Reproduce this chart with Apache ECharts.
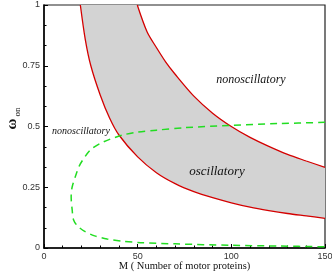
<!DOCTYPE html>
<html>
<head>
<meta charset="utf-8">
<script src="https://cdn.jsdelivr.net/npm/echarts@6/dist/echarts.min.js"></script>
<style>html,body{margin:0;padding:0;background:#fff}#c{width:332px;height:272px}</style>
</head>
<body>
<div id="c"></div>
<script>
// Lower red boundary (M, omega_on)
const lowerM = [19.4, 22, 25, 30, 35, 40, 50, 60, 70, 80, 90, 100, 110, 120, 130, 140, 150];
const lowerW = [1.0, 0.86, 0.75, 0.63, 0.535, 0.465, 0.375, 0.31, 0.265, 0.232, 0.207, 0.186, 0.168, 0.154, 0.142, 0.132, 0.122];
// Upper red boundary
const upperM = [49.8, 55, 60, 65, 70, 80, 90, 100, 110, 120, 130, 140, 150];
const upperW = [1.0, 0.89, 0.825, 0.765, 0.715, 0.625, 0.555, 0.5, 0.455, 0.418, 0.385, 0.358, 0.332];
// Green dashed curve (traced in order)
const greenM = [150, 125, 100, 75, 60, 50, 42, 35, 30, 25, 22, 19, 16.7, 15, 14.5, 15, 15.8, 18, 22, 27, 33.7, 42, 51.6, 70, 100, 125, 150];
const greenW = [0.517, 0.512, 0.505, 0.495, 0.485, 0.477, 0.465, 0.447, 0.43, 0.405, 0.377, 0.34, 0.293, 0.25, 0.211, 0.16, 0.115, 0.09, 0.067, 0.05, 0.037, 0.028, 0.022, 0.017, 0.011, 0.008, 0.005];
// Axis ticks
const xTicks = [0, 50, 100, 150];
const yTicks = [0, 0.25, 0.5, 0.75, 1];

const zip = (a, b) => a.map((v, i) => [v, b[i]]);
const lowerData = zip(lowerM, lowerW);
const upperData = zip(upperM, upperW);
const greenData = zip(greenM, greenW);
const yMax = yTicks[yTicks.length - 1];
const poly = [].concat(upperData, lowerData.slice().reverse());

const chart = echarts.init(document.getElementById('c'), null, {renderer: 'canvas'});
const axisCommon = {
  axisLine: {show: true, lineStyle: {color: '#000', width: 1.5}},
  axisTick: {show: true, inside: true, length: 4, lineStyle: {color: '#000'}},
  minorTick: {show: true, length: 2.5, lineStyle: {color: '#000'}},
  splitLine: {show: false},
  axisLabel: {fontFamily: 'Liberation Sans', fontSize: 9, color: '#333', margin: 4}
};
chart.setOption({
  animation: false,
  grid: {left: 44, right: 7, top: 5, bottom: 24, containLabel: false, outerBoundsMode: 'none',
         show: true, borderColor: '#222', borderWidth: 1.2, backgroundColor: 'transparent'},
  xAxis: Object.assign({}, axisCommon, {
    type: 'value', min: xTicks[0], max: xTicks[xTicks.length - 1], interval: 50,
    minorTick: Object.assign({}, axisCommon.minorTick, {splitNumber: 5}),
    name: 'M ( Number of motor proteins)', nameLocation: 'middle', nameGap: 13, nameMoveOverlap: false,
    nameTextStyle: {fontFamily: 'Liberation Serif', fontSize: 10.5, color: '#111'}
  }),
  yAxis: Object.assign({}, axisCommon, {
    type: 'value', min: yTicks[0], max: yMax, interval: 0.25,
    minorTick: Object.assign({}, axisCommon.minorTick, {splitNumber: 3})
  }),
  series: [
    {
      type: 'custom',
      data: [[0, 0]],
      silent: true,
      z: 1,
      renderItem: function (params, api) {
        const pts = [api.coord(lowerData[0])];
        poly.forEach(p => pts.push(api.coord(p)));
        return {type: 'polygon', shape: {points: pts}, style: {fill: '#d3d3d3', stroke: null}};
      }
    },
    {type: 'line', data: lowerData, symbol: 'none', smooth: 0.3, lineStyle: {color: '#d40000', width: 1.3}, z: 3},
    {type: 'line', data: upperData, symbol: 'none', smooth: 0.3, lineStyle: {color: '#d40000', width: 1.3}, z: 3},
    {type: 'line', data: greenData, symbol: 'none', smooth: 0.3, lineStyle: {color: '#22dd22', width: 1.5, type: [7, 5]}, z: 4}
  ],
  graphic: [
    {type: 'text', x: 12, y: 124, rotation: Math.PI / 2, style: {text: 'ω', font: 'bold 15px "Liberation Serif"', fill: '#111', align: 'center', verticalAlign: 'middle'}, z: 10},
    {type: 'text', x: 18, y: 112, rotation: Math.PI / 2, style: {text: 'on', font: '9px "Liberation Serif"', fill: '#111', align: 'center', verticalAlign: 'middle'}, z: 10},
    {type: 'text', x: 251, y: 80, style: {text: 'nonoscillatory', font: 'italic 12px "Liberation Serif"', fill: '#111', align: 'center', verticalAlign: 'middle'}, z: 10},
    {type: 'text', x: 217, y: 172, style: {text: 'oscillatory', font: 'italic 13px "Liberation Serif"', fill: '#111', align: 'center', verticalAlign: 'middle'}, z: 10},
    {type: 'text', x: 81, y: 131, style: {text: 'nonoscillatory', font: 'italic 10px "Liberation Serif"', fill: '#111', align: 'center', verticalAlign: 'middle'}, z: 10}
  ]
});
</script>
</body>
</html>
